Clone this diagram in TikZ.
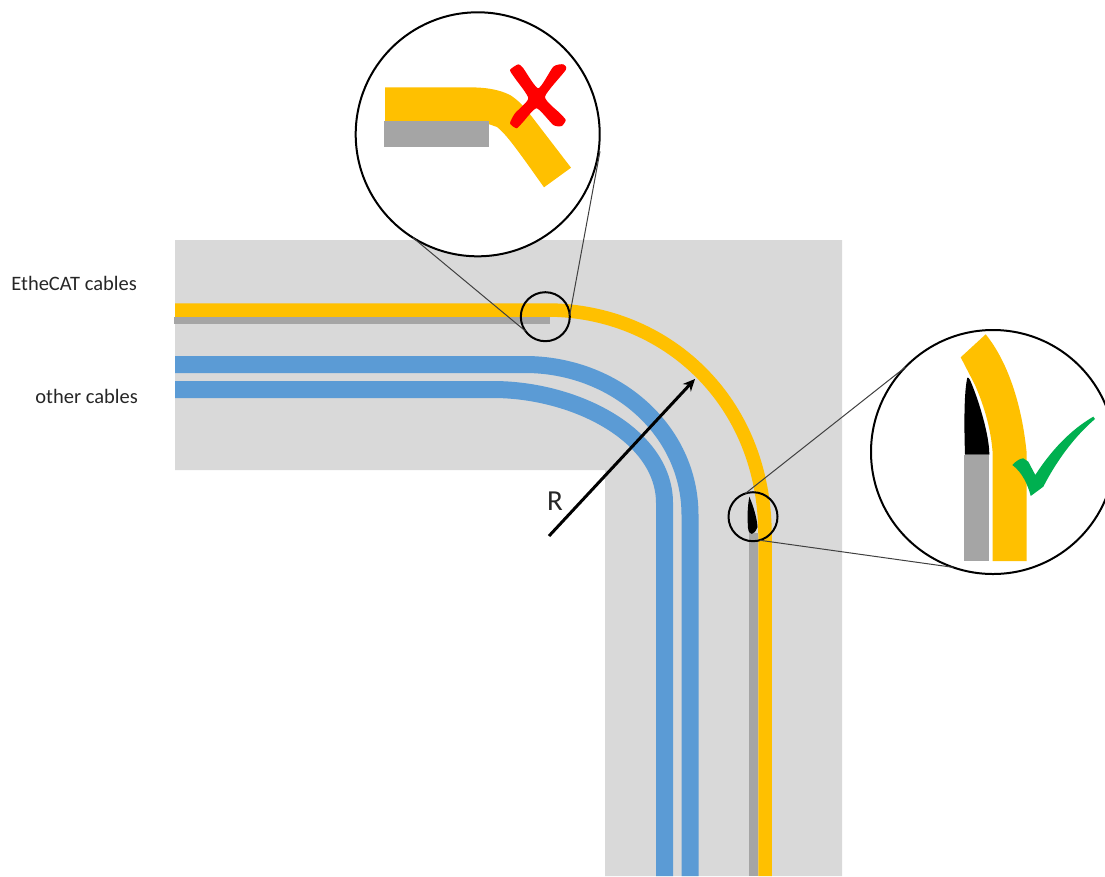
\documentclass[tikz,border=0pt]{standalone}
\usepackage{xcolor}
\usepackage{fontspec}
\setmainfont{Carlito}
\usetikzlibrary{arrows.meta, positioning, calc}

\definecolor{ductgray}{HTML}{D9D9D9}
\definecolor{cableyellow}{HTML}{FFC000}
\definecolor{cableblue}{HTML}{5B9BD5}
\definecolor{railgray}{HTML}{A5A5A5}
\definecolor{crossred}{HTML}{FF0000}
\definecolor{tickgreen}{HTML}{00B050}

\begin{document}
\begin{tikzpicture}[
  x=1pt, y=-1pt,
  ethercable/.style = {draw=cableyellow, line width=13.5pt},
  othercable/.style = {draw=cableblue, line width=17pt},
  spot/.style       = {circle, draw=black, line width=2pt, minimum size=49pt,
                       inner sep=0pt, outer sep=0pt},
  lens/.style       = {circle, draw=black, fill=white, line width=2pt, minimum size=244pt,
                       inner sep=0pt, outer sep=0pt},
  zoomline/.style   = {draw=black!75, line width=1pt},
  label/.style      = {font=\fontsize{20.5}{24}\selectfont, text=black!85, inner sep=0pt},
  arr/.style        = {-{Stealth[length=12pt, width=11pt]}, line width=3pt, black}
]
\clip (0,0) rectangle (1105,876);

% ── Duct ──────────────────────────────────────────────────────────────────────
\fill[ductgray] (175,240) -- (842,240) -- (842,876) -- (605,876) -- (605,470) -- (175,470) -- cycle;

% ── Cables ────────────────────────────────────────────────────────────────────
\fill[railgray] (174,317) rectangle (550,324);
\fill[railgray] (749,533) rectangle (758,876);
\draw[ethercable] (175,310) -- (547,310) .. controls (665,310) and (765,400) .. (765,535) -- (765,876);
\draw[othercable] (175,364.5) -- (525,364.5) .. controls (615,364.5) and (690,430) .. (690,515) -- (690,876);
\draw[othercable] (175,389.5) -- (493,389.5) .. controls (575,389.5) and (664.5,435) .. (664.5,503) -- (664.5,876);
\fill[black] (749.3,496.7) .. controls (747,510) and (747.5,520) .. (748,528)
  .. controls (749,536) and (754,536) .. (757.5,527)
  .. controls (757,518) and (753,505) .. (749.3,496.7) -- cycle;

% ── Radius ────────────────────────────────────────────────────────────────────
\coordinate (rstart) at (549,536);
\coordinate (rend) at (695,379);
\draw[arr] (rstart) -- (rend);
\node[label, font=\fontsize{29}{32}\selectfont] (rlabel) at (555,501) {R};

% ── Labels ────────────────────────────────────────────────────────────────────
\node[label, anchor=east] (ethlabel) at (137,283) {EtheCAT cables};
\node[label, anchor=east] (otherlabel) at (138,396) {other cables};

% ── Detail circles ────────────────────────────────────────────────────────────
\node[spot] (spotbad) at (545.3,316.7) {};
\node[spot] (spotgood) at (753,516.7) {};
\node[lens] (lensbad) at (477.7,134.3) {};
\node[lens] (lensgood) at (993,452) {};

\draw[zoomline] (lensbad.238) -- (spotbad.216);
\draw[zoomline] ($(lensbad.-8)+(1.5,0)$) -- (spotbad.4);
\draw[zoomline] (lensgood.136.5) -- (spotgood.108);
\draw[zoomline] (lensgood.251) -- (spotgood.-74);

% ── Wrong bend ────────────────────────────────────────────────────────────────
\fill[cableyellow] (385,87.3) -- (470,87.3) .. controls (485,87.5) and (498,89) .. (510,95)
  .. controls (518,100) and (522,105) .. (526.7,110) -- (571,167.7) -- (544,187.3) -- (526.7,163)
  .. controls (515,147) and (505,133) .. (497,127) -- (490,124.5) -- (385,121) -- cycle;
\fill[railgray] (383.5,121) rectangle (489,146.7);
\fill[crossred] plot[smooth cycle, tension=0.35] coordinates {
  (510,70) (518.3,64.3) (523.3,68.3) (538.3,88.3) (553.3,66.7) (563.3,64.3)
  (565.7,70) (545,96.7) (560,113.3) (565.7,120) (561.7,126) (553.3,125)
  (536.7,108.3) (523.3,121.7) (516.7,128.3) (510,123.3) (515,113.3) (528.3,98.3) (515,78.3)};

% ── Right bend ────────────────────────────────────────────────────────────────
\fill[cableyellow] (960.7,357.3) -- (985.7,334.3) .. controls (1008,362) and (1022,405) .. (1026.7,453.3)
  -- (1026.7,561) -- (992.7,561) -- (992.7,453.3) .. controls (991,430) and (985,408) .. (975,385) -- cycle;
\fill[railgray] (964,454.7) rectangle (989.3,561);
\fill[black] (967.3,377.7) .. controls (964,392) and (964,425) .. (965,454.7) -- (989.3,454.7)
  .. controls (989.5,435) and (978,398) .. (970,380) .. controls (969,378) and (968,377) .. (967.3,377.7) -- cycle;
\fill[tickgreen] (1012.3,465) .. controls (1016,461) and (1020,458.5) .. (1023.3,458.3) -- (1028.3,461.7)
  -- (1035.3,475) .. controls (1050,452) and (1070,430) .. (1093.3,416.7) -- (1095,419)
  .. controls (1075,436) and (1057,460) .. (1043.3,486.7) -- (1030.7,496)
  .. controls (1028,485) and (1022,472) .. (1012.3,465) -- cycle;
\end{tikzpicture}
\end{document}
